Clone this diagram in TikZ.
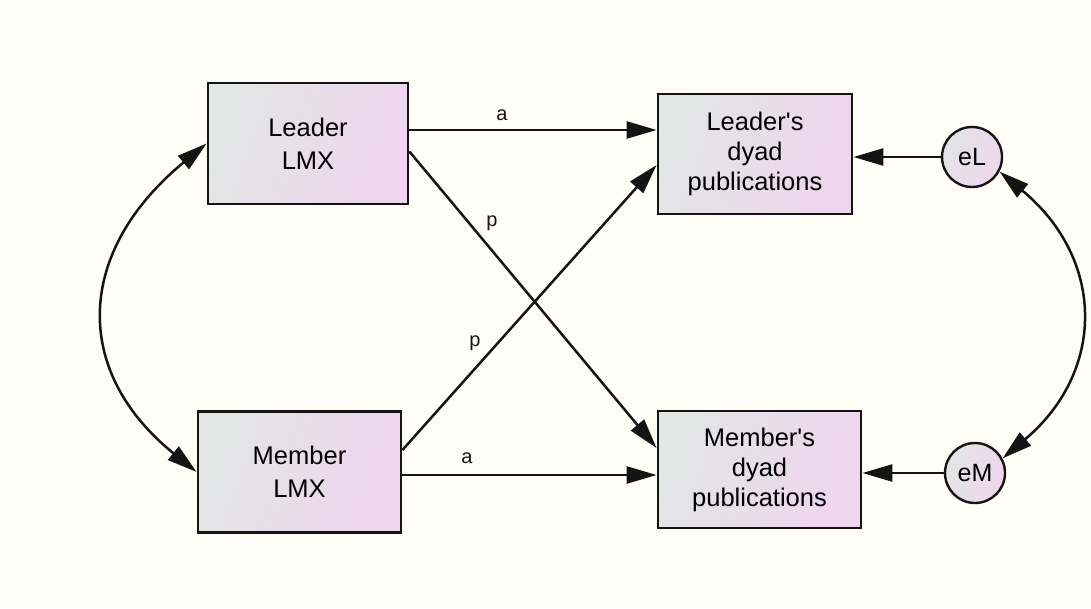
\documentclass[tikz,border=0pt]{standalone}
\usepackage{fontspec}
\setmainfont{Liberation Sans}
\usetikzlibrary{arrows.meta,calc}
\definecolor{bg}{RGB}{254,254,246}
\definecolor{gA}{RGB}{226,230,229}
\definecolor{gB}{RGB}{239,213,237}
\definecolor{ink}{RGB}{20,20,20}
\begin{document}
\begin{tikzpicture}[x=1pt,y=-1pt,
 box/.style={draw=ink, line width=2.8pt, left color=gA, right color=gB, shading angle=70,
   inner sep=0pt, align=center, font=\fontsize{25.5}{30}\selectfont},
 twoline/.style={font=\fontsize{25.5}{33}\selectfont},
 err/.style={circle, draw=ink, line width=2.4pt, left color=gA, right color=gB, shading angle=70,
   minimum size=60pt, inner sep=0pt, font=\fontsize{25}{28}\selectfont},
 tip/.tip={Triangle[length=30pt,width=17pt]},
 arr/.style={line width=2.5pt, draw=ink, -tip},
 darr/.style={line width=2.5pt, draw=ink, tip-tip},
 lab/.style={font=\fontsize{20}{24}\selectfont, inner sep=0pt, text=ink}]
\useasboundingbox (0,0) rectangle (1091,608);
\fill[bg] (0,0) rectangle (1091,608);

\node[box, twoline, minimum width=200pt, minimum height=121pt] (LL) at (308,143.5) {Leader\\LMX};
\node[box, minimum width=194pt, minimum height=120pt] (LD) at (755,154) {Leader\textquotesingle s\\dyad\\publications};
\node[box, twoline, minimum width=203pt, minimum height=121pt] (ML) at (299.5,472) {Member\\LMX};
\node[box, minimum width=203pt, minimum height=117pt] (MD) at (759.5,469.5) {Member\textquotesingle s\\dyad\\publications};
\node[err] (eL) at (972,157) {eL};
\node[err] (eM) at (975,473) {eM};

\draw[arr] ([yshift=13.5pt]LL.east) -- ([yshift=24pt]LD.west);
\draw[arr] ([yshift=-3pt]ML.east) -- ([yshift=-5.5pt]MD.west);
\draw[arr] ([yshift=-8pt]LL.east) -- ([yshift=21.5pt]MD.west);
\draw[arr] ([yshift=22pt]ML.east) -- ([yshift=-11pt]LD.west);
\draw[arr] (eL.west) -- (eL.west -| LD.east);
\draw[arr] (eM.west) -- (eM.west -| MD.east);

\draw[darr] (LL.west) .. controls +(-130,107) and +(-126,-102) .. (ML.west);
\draw[darr] (eL.-28) .. controls +(106,88) and +(103,-87) .. (eM.28);

\node[lab] (la1) at (502,115) {a};
\node[lab] (la2) at (467,458) {a};
\node[lab] (lp1) at (492,223) {p};
\node[lab] (lp2) at (475,343) {p};
\end{tikzpicture}
\end{document}
